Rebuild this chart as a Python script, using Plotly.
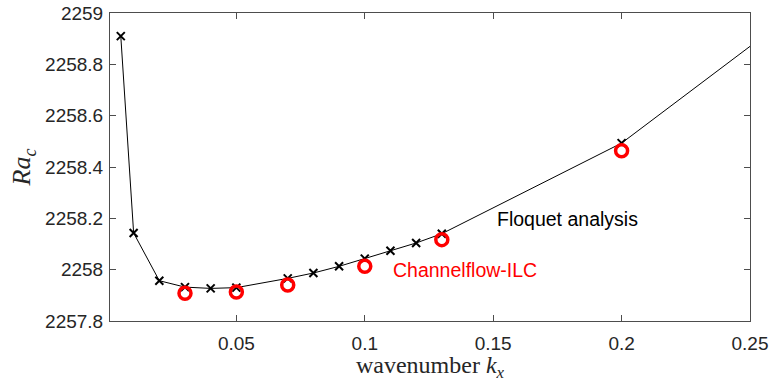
import plotly.graph_objects as go

# Floquet analysis (black crosses + line)
kx_floquet = [0.005, 0.01, 0.02, 0.03, 0.04, 0.05, 0.07, 0.08, 0.09, 0.10, 0.11, 0.12, 0.13, 0.20]
ra_floquet = [2258.91, 2258.143, 2257.957, 2257.932, 2257.927, 2257.930, 2257.966, 2257.987,
              2258.013, 2258.043, 2258.074, 2258.104, 2258.140, 2258.493]
# line continues to the right edge of the axes
kx_line_end = [0.25]
ra_line_end = [2258.87]

# Channelflow-ILC (red circles)
kx_ilc = [0.03, 0.05, 0.07, 0.10, 0.13, 0.20]
ra_ilc = [2257.908, 2257.913, 2257.940, 2258.013, 2258.117, 2258.463]

xticks = [0.05, 0.1, 0.15, 0.2, 0.25]
xticklabels = ["0.05", "0.1", "0.15", "0.2", "0.25"]
yticks = [2257.8, 2258.0, 2258.2, 2258.4, 2258.6, 2258.8, 2259.0]
yticklabels = ["2257.8", "2258", "2258.2", "2258.4", "2258.6", "2258.8", "2259"]

fig = go.Figure()
fig.add_trace(go.Scatter(x=kx_floquet + kx_line_end, y=ra_floquet + ra_line_end, mode="lines",
                         line=dict(color="black", width=1), showlegend=False, hoverinfo="skip"))
fig.add_trace(go.Scatter(x=kx_floquet, y=ra_floquet, mode="markers",
                         marker=dict(symbol="x-thin", size=8, line=dict(color="black", width=2)),
                         showlegend=False))
fig.add_trace(go.Scatter(x=kx_ilc, y=ra_ilc, mode="markers",
                         marker=dict(symbol="circle-open", size=12, color="red", line=dict(color="red", width=3.5)),
                         showlegend=False))

axis_common = dict(showgrid=False, zeroline=False, showline=True, linecolor="#4d4d4d", linewidth=1,
                   mirror="ticks", ticks="inside", ticklen=6, tickcolor="#4d4d4d", tickwidth=1,
                   automargin=False,
                   tickfont=dict(family="Liberation Sans, Arial", size=19, color="#262626"))

fig.update_layout(
    width=769, height=382,
    margin=dict(l=110, r=19, t=13, b=61),
    plot_bgcolor="white", paper_bgcolor="white",
    xaxis=dict(range=[0.0008, 0.25], tickvals=xticks, ticktext=xticklabels, ticklabelstandoff=5,
               title=dict(text="wavenumber <i>k</i><sub><i>x</i></sub>",
                          font=dict(family="Liberation Serif, Times New Roman", size=24, color="#262626"),
                          standoff=0),
               **axis_common),
    yaxis=dict(range=[2257.8, 2259.0], tickvals=yticks, ticktext=yticklabels, ticklabelstandoff=2,
               title=dict(text="<i>Ra</i><sub><i>c</i></sub>",
                          font=dict(family="Liberation Serif, Times New Roman", size=26, color="#262626"),
                          standoff=6),
               **axis_common),
    annotations=[
        dict(x=0.1507, y=2258.198, xref="x", yref="y", text="Floquet analysis", showarrow=False,
             xanchor="left", yanchor="middle", font=dict(family="Liberation Sans, Arial", size=19.5, color="black")),
        dict(x=0.1102, y=2258.0, xref="x", yref="y", text="Channelflow-ILC", showarrow=False,
             xanchor="left", yanchor="middle", font=dict(family="Liberation Sans, Arial", size=19.5, color="red")),
    ],
)

fig.write_html("out.html")
